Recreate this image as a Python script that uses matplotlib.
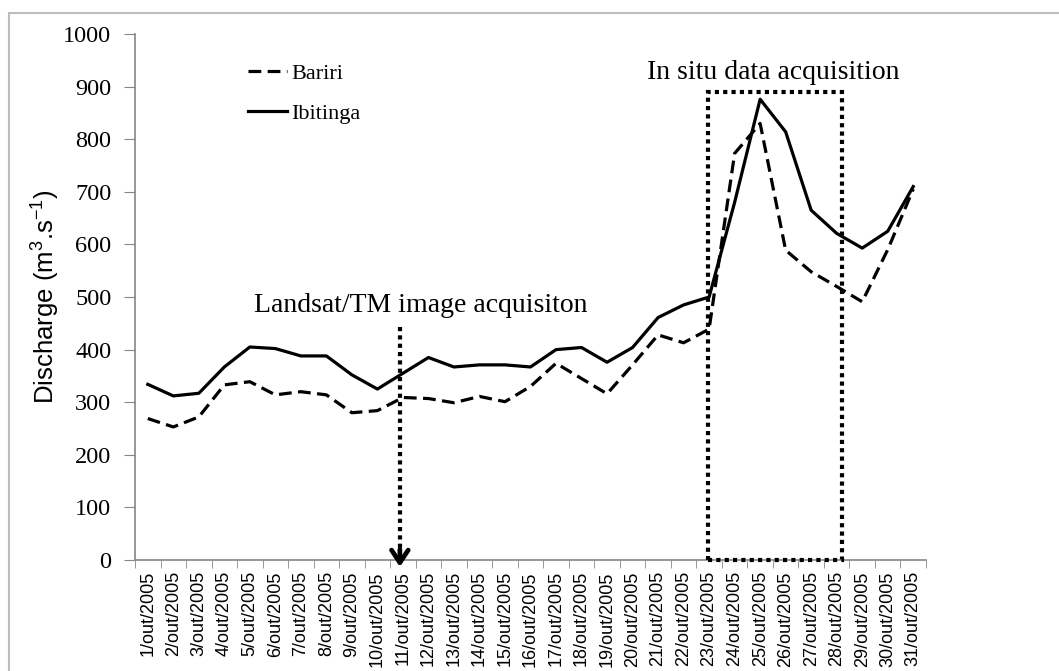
import matplotlib
matplotlib.use('Agg')
import matplotlib.pyplot as plt
from matplotlib.patches import Rectangle

# Daily discharge, October 2005 (m3/s)
days = [f'{d}/out/2005' for d in range(1, 32)]
bariri = [269, 253, 272, 333, 339, 314, 320, 314, 280, 284,
          309, 307, 299, 311, 301, 330, 374, 345, 316, 371,
          428, 413, 439, 773, 830, 589, 548, 520, 491, 590, 705]
ibitinga = [334, 312, 317, 367, 405, 402, 388, 388, 352, 325,
            355, 385, 367, 371, 371, 367, 400, 404, 376, 404,
            461, 485, 500, 680, 876, 814, 665, 621, 593, 625, 710]

# annotation positions (category index, discharge)
landsat_day = 9.88
landsat_top = 443
insitu_start, insitu_end, insitu_top = 21.94, 27.19, 890

serif = 'Liberation Serif'
sans = 'Liberation Sans'
plt.rcParams['mathtext.fontset'] = 'custom'
plt.rcParams['mathtext.rm'] = sans
plt.rcParams['mathtext.it'] = sans

fig = plt.figure(figsize=(10.59, 6.71), dpi=100)
ax = fig.add_axes([0.1275, 0.1654, 0.8744 - 0.1275, 0.9493 - 0.1654])

# light frame around the figure (runs off right/bottom edge)
fig.patches.append(Rectangle((9 / 1059, -0.05), 1.2, 1 - 13 / 671 + 0.05,
                             transform=fig.transFigure, fill=False,
                             edgecolor='#bdbdbd', lw=1.5))

x = list(range(len(days)))
ax.plot(x, bariri, color='black', lw=2.3, linestyle=(0, (4, 2)), label='Bariri')
ax.plot(x, ibitinga, color='black', lw=2.3, label='Ibitinga')

ax.set_xlim(-0.5, len(days) - 0.5)
ax.set_ylim(0, 1000)
ax.set_yticks(range(0, 1001, 100))
ax.set_xticks(x)
ax.set_xticklabels(days, rotation=90, fontfamily=sans, fontsize=13)
ax.set_xticks([i - 0.5 for i in range(len(days) + 1)], minor=True)
ax.tick_params(axis='x', which='major', length=0, pad=8)
ax.tick_params(axis='x', which='minor', length=6, color='#868686', direction='out')
ax.tick_params(axis='y', length=8, color='#868686', direction='out', pad=9)
for lab in ax.get_yticklabels():
    lab.set_fontfamily(serif)
    lab.set_fontsize(17.5)

for s in ['top', 'right']:
    ax.spines[s].set_visible(False)
for s in ['left', 'bottom']:
    ax.spines[s].set_color('#868686')
    ax.spines[s].set_linewidth(1.2)

ax.set_ylabel('Discharge (m$^{3}$.s$^{-1}$)', fontfamily=sans, fontsize=18.5, labelpad=1)

leg = ax.legend(loc='upper left', bbox_to_anchor=(248 / 1059, 1 - 63 / 671),
                bbox_transform=fig.transFigure, frameon=False,
                prop={'family': serif, 'size': 16}, handlelength=1.75,
                handletextpad=0.2, labelspacing=0.9, borderaxespad=0, borderpad=0)

# Landsat image acquisition arrow
ax.plot([landsat_day, landsat_day], [landsat_top, 22], color='black', lw=3,
        linestyle=(0, (1, 1)), clip_on=False)
ax.annotate('', xy=(landsat_day, -13), xytext=(landsat_day, 20),
            arrowprops=dict(arrowstyle='->,head_length=0.9,head_width=0.6',
                            lw=3.4, color='black', shrinkA=0, shrinkB=0),
            annotation_clip=False)
ax.text(10.68, 483, 'Landsat/TM image acquisiton', fontfamily=serif,
        fontsize=20, ha='center', va='center')

# in situ acquisition window
ax.add_patch(Rectangle((insitu_start, 0), insitu_end - insitu_start, insitu_top,
                       fill=False, edgecolor='black', lw=3, zorder=5,
                       linestyle=(0, (1, 1)), clip_on=False))
ax.text(24.53, 926, 'In situ data acquisition', fontfamily=serif,
        fontsize=20, ha='center', va='center')

fig.savefig('out.png', dpi=100)
